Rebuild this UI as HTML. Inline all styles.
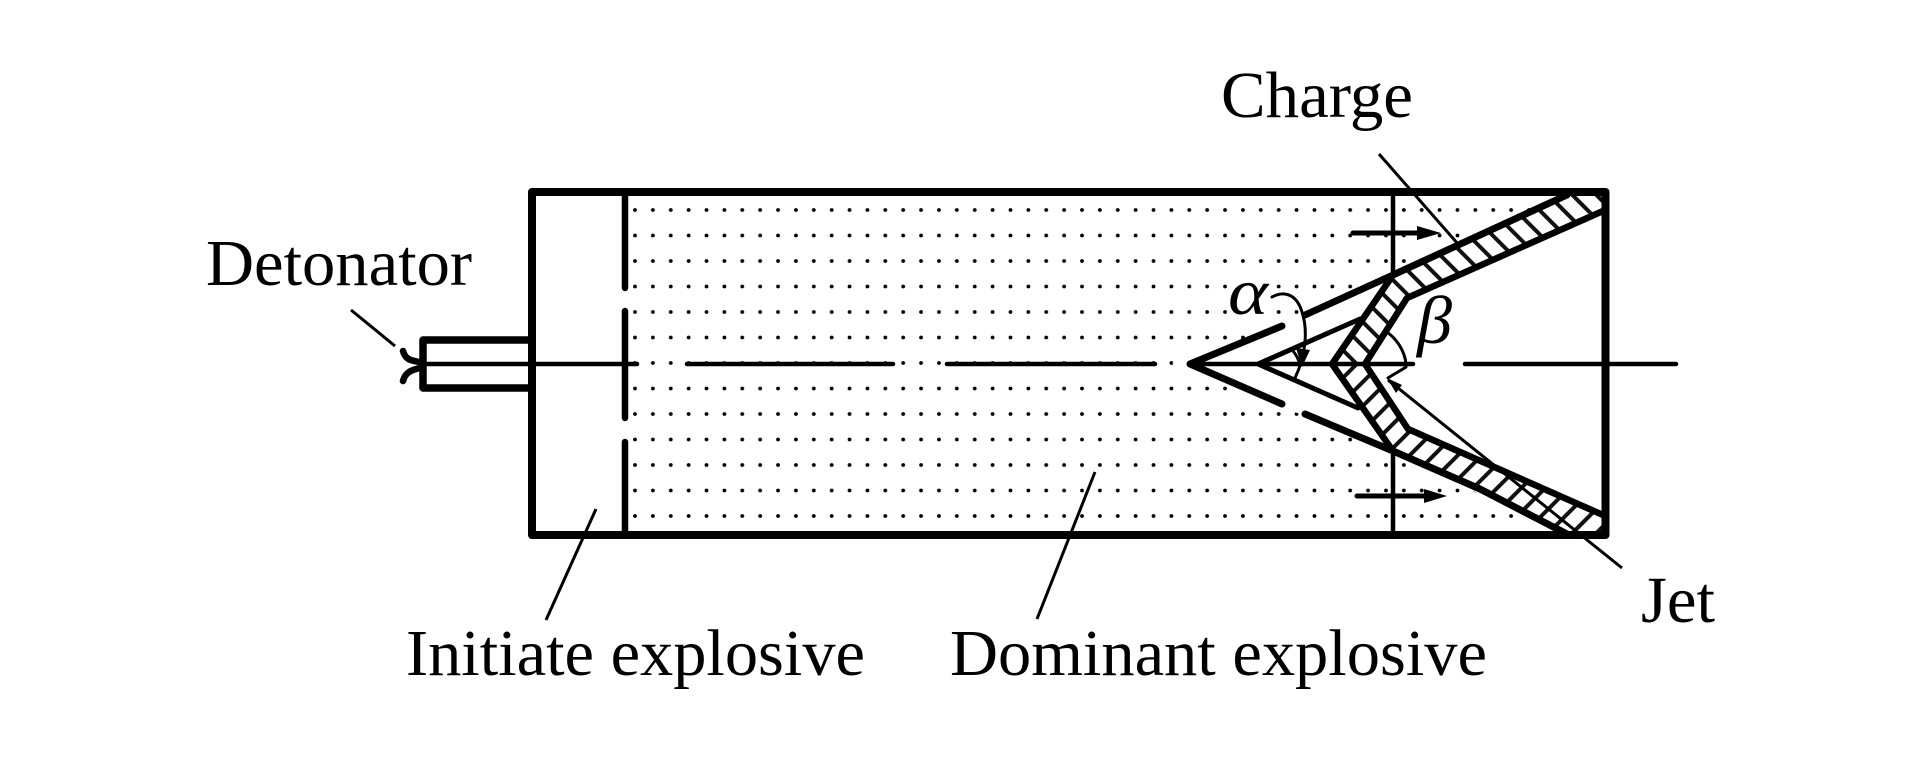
<!DOCTYPE html>
<html><head><meta charset="utf-8"><style>
html,body{margin:0;padding:0;background:#fff;width:1923px;height:780px;overflow:hidden}
svg{display:block}
text{font-family:"Liberation Serif",serif;font-size:66px;fill:#000}
</style></head><body>
<svg width="1923" height="780" viewBox="0 0 1923 780" xmlns="http://www.w3.org/2000/svg">
<defs>
<pattern id="dots" x="635" y="210" width="17.88" height="25.5" patternUnits="userSpaceOnUse">
<circle cx="0" cy="0" r="1.9" fill="#000"/><circle cx="17.88" cy="0" r="1.9" fill="#000"/>
<circle cx="0" cy="25.5" r="1.9" fill="#000"/><circle cx="17.88" cy="25.5" r="1.9" fill="#000"/>
</pattern>
<pattern id="hatch" x="0" y="0" width="17" height="17" patternUnits="userSpaceOnUse" patternTransform="rotate(-45) translate(3 0)">
<rect x="0" y="0" width="4" height="17" fill="#111"/>
</pattern>
<clipPath id="dotclip"><polygon points="630,200 1560,200 1393,277 1310,312 1250,337 1172,363 1232,389 1300,414 1393,457 1565,530 630,530"/></clipPath>
</defs>
<rect width="1923" height="780" fill="#fff"/>
<rect x="628" y="200" width="960" height="330" fill="url(#dots)" clip-path="url(#dotclip)"/>
<rect x="1234" y="278" width="36" height="40" fill="#fff"/>

<!-- liner fill -->
<g>
<polygon points="1393,276 1567,195 1606,196 1606,210 1407,297 1365,364 1332,364" fill="#fff"/>
<polygon points="1393,276 1567,195 1606,196 1606,210 1407,297 1365,364 1332,364" fill="url(#hatch)"/>
</g>
<g transform="translate(0,728) scale(1,-1)">
<polygon points="1393,276 1567,195 1606,196 1606,210 1407,297 1365,364 1332,364" fill="#fff"/>
<polygon points="1393,276 1567,195 1606,196 1606,210 1407,297 1365,364 1332,364" fill="url(#hatch)"/>
</g>

<g fill="none" stroke="#000" stroke-linejoin="round" stroke-linecap="round">
<!-- main box -->
<rect x="532" y="192" width="1073.5" height="343" stroke-width="8"/>
<!-- detonator -->
<path d="M532,340H423V388H532" stroke-width="7.5"/>
<!-- dashed partition -->
<path d="M625,192V288M625,311V418M625,442V535" stroke-width="6.5"/>
<!-- axis -->
<path d="M423,364H637M687,364H893M947,364H1155M1190,364H1413M1465,364H1676" stroke-width="4.5"/>
<!-- squiggle -->
<path d="M403,351C406,362 414,360 423,363M403,381C406,370 414,370 423,367" stroke-width="6.5"/>
<!-- liner outlines -->
<path d="M1305,315L1393,275L1567,195M1305,414L1393,451L1480,489L1567,534" stroke-width="7"/>
<path d="M1393,275L1332,364L1393,451" stroke-width="6.5"/>
<path d="M1603,211L1407,298L1365,364L1408,429L1603,515" stroke-width="6.5"/>
<!-- cones -->
<path d="M1282,326L1190,364L1282,404" stroke-width="7"/>
<path d="M1360,319L1258,364L1358,408" stroke-width="5"/>
<!-- vertical -->
<path d="M1393,192V275M1393,451V535" stroke-width="4.5" stroke-linecap="butt"/>
<!-- arrows -->
<path d="M1353,233H1420M1357,496H1425" stroke-width="5"/>
<!-- leaders -->
<path d="M1379,154L1458,244M351,310L395,346M596,509L546,620M1095,472L1037,619M1388,380L1622,568" stroke-width="3" stroke-linecap="butt"/>
<!-- alpha arc -->
<path d="M1272,297C1285,290 1297,295 1302,312C1308,330 1306,355 1295,378" stroke-width="3"/>
<path d="M1292,350C1296,354 1299,360 1300,366" stroke-width="3"/>
<!-- beta arc -->
<path d="M1385,331C1397,338 1405,352 1406,364M1388,378C1394,374 1400,371 1406,367" stroke-width="3"/>
</g>
<!-- arrowheads -->
<polygon points="1417,226 1441,233 1417,240" fill="#000"/>
<polygon points="1424,489 1447,496 1424,503" fill="#000"/>
<polygon points="1387,378 1402,385 1396,393" fill="#000"/>
<polygon points="1296,348 1310,350 1302,367" fill="#000"/>

<text x="206" y="285" textLength="266" lengthAdjust="spacingAndGlyphs">Detonator</text>
<text x="1221" y="117" textLength="192" lengthAdjust="spacingAndGlyphs">Charge</text>
<text x="1641" y="622" textLength="74" lengthAdjust="spacingAndGlyphs">Jet</text>
<text x="406" y="675" textLength="459" lengthAdjust="spacingAndGlyphs">Initiate explosive</text>
<text x="950" y="675" textLength="537" lengthAdjust="spacingAndGlyphs">Dominant explosive</text>
<text x="1228" y="314" textLength="40" lengthAdjust="spacingAndGlyphs" style="font-style:italic;font-size:66px">α</text>
<text x="1417" y="343" textLength="35" lengthAdjust="spacingAndGlyphs" style="font-style:italic;font-size:68px">β</text>
</svg>
</body></html>
